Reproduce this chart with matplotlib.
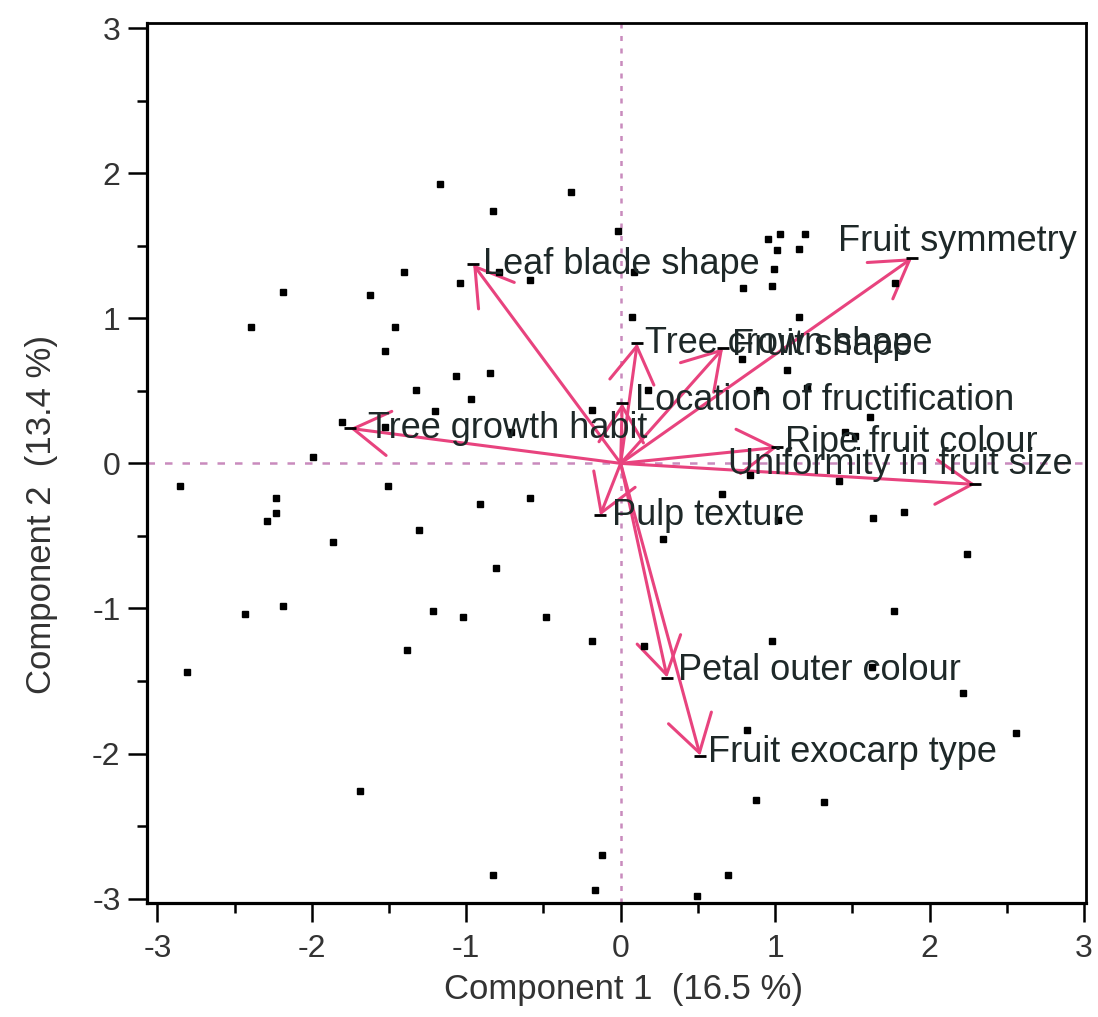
import matplotlib
matplotlib.use("Agg")
import matplotlib.pyplot as plt
from matplotlib.ticker import MultipleLocator

plt.rcParams['font.family'] = ['Liberation Sans', 'DejaVu Sans']

# observation scores (component 1, component 2)
score_x = [-1.168, -0.324, -0.827, -0.016, -0.791, -0.586, -1.406, -1.043, -2.186, -1.626,
           -2.392, -1.464, -1.529, -1.065, -0.849, -1.326, -0.968, -1.205, -0.183, -1.805,
           -1.524, -0.709, -1.990, -2.851, -1.509, -2.230, -2.230, -2.290, -0.909, -0.586,
           -1.304, -1.865, -0.806, -2.430, -2.186, -1.212, -1.024, -0.484, -0.184, -1.386,
           -2.808, -1.691, -0.123, -0.827, -0.165,
           1.416, 0.838, 0.657, 1.016, 1.631, 1.835, 0.277, 2.241, 1.772, 0.979,
           0.154, 1.626, 2.219, 0.817, 2.558, 0.877, 1.317, 0.694, 0.497,
           0.957, 1.032, 1.194, 1.011, 1.155, 0.994, 0.087, 0.795, 0.979, 1.777,
           0.074, 1.152, 0.784, 1.076, 1.205, 0.178, 0.896, 1.615, 1.453, 1.518]
score_y = [1.924, 1.869, 1.740, 1.600, 1.319, 1.262, 1.321, 1.243, 1.181, 1.163,
           0.940, 0.940, 0.777, 0.600, 0.623, 0.503, 0.446, 0.361, 0.366, 0.285,
           0.250, 0.216, 0.043, -0.157, -0.157, -0.237, -0.340, -0.395, -0.281, -0.237,
           -0.462, -0.543, -0.722, -1.037, -0.981, -1.019, -1.060, -1.060, -1.221, -1.283,
           -1.439, -2.257, -2.699, -2.837, -2.940,
           -0.122, -0.083, -0.212, -0.393, -0.379, -0.336, -0.519, -0.623, -1.019, -1.221,
           -1.262, -1.405, -1.584, -1.841, -1.860, -2.319, -2.336, -2.837, -2.979,
           1.548, 1.584, 1.584, 1.472, 1.474, 1.343, 1.319, 1.210, 1.224, 1.243,
           1.010, 1.012, 0.722, 0.641, 0.517, 0.503, 0.503, 0.321, 0.216, 0.190]

# variable loadings (arrow tips)
variables = ["Leaf blade shape", "Tree growth habit", "Tree crown shape", "Fruit shape",
             "Location of fructification", "Ripe fruit colour", "Uniformity in fruit size",
             "Fruit symmetry", "Pulp texture", "Petal outer colour", "Fruit exocarp type"]
load_x = [-0.955, -1.751, 0.107, 0.663, 0.010, 1.013, 2.295, 1.886, -0.133, 0.301, 0.515]
load_y = [1.372, 0.241, 0.827, 0.793, 0.414, 0.110, -0.145, 1.414, -0.359, -1.476, -2.014]

tick_vals = [-3, -2, -1, 0, 1, 2, 3]
tick_labels = ["-3", "-2", "-1", "0", "1", "2", "3"]

# label offsets from tip, in pixels
label_off = [(10, 0), (18, 0), (8, 0), (9, 3), (13, 3), (8, 5), (-247, 20),
             (-74, 17), (12, 0), (11, 7), (8, 3)]

pink = '#e8437e'
guide = '#c98bbd'
txt = '#1e2828'

fig = plt.figure(figsize=(10.98, 10.17), dpi=100)
ax = fig.add_axes([147 / 1098, 1 - 903 / 1017, (1086 - 147) / 1098, (903 - 23) / 1017])

ax.axhline(0, color=guide, lw=1.8, ls=(0, (3, 4)), zorder=1)
ax.axvline(0, color=guide, lw=1.8, ls=(0, (2, 3)), zorder=1)

for x, y in zip(load_x, load_y):
    ax.annotate('', xy=(x, y), xytext=(0, 0),
                arrowprops=dict(arrowstyle='->,head_length=2.6,head_width=1.6',
                                color=pink, lw=2.2, shrinkA=0, shrinkB=0,
                                mutation_scale=10),
                zorder=2)

ax.plot(score_x, score_y, 's', color='black', ms=4.5, zorder=3)
ax.plot(load_x, load_y, '_', color='black', ms=8, mew=2, zorder=3)

for name, x, y, off in zip(variables, load_x, load_y, label_off):
    ax.annotate(name, xy=(x, y), xytext=off, textcoords='offset pixels',
                fontsize=26, ha='left', va='center', color=txt, zorder=4)

ax.set_xlim(-3.067, 3.013)
ax.set_ylim(-3.03, 3.035)
ax.set_xticks(tick_vals)
ax.set_xticklabels(tick_labels)
ax.set_yticks(tick_vals)
ax.set_yticklabels(tick_labels)
ax.xaxis.set_minor_locator(MultipleLocator(0.5))
ax.yaxis.set_minor_locator(MultipleLocator(0.5))
ax.tick_params(which='major', direction='out', length=14, width=1.8,
               labelsize=23, labelcolor='#333333')
ax.tick_params(which='minor', direction='out', length=7, width=1.8)
ax.tick_params(axis='x', which='major', pad=8)
ax.tick_params(axis='y', which='major', pad=5)

for side in ['left', 'bottom']:
    ax.spines[side].set_linewidth(2.3)
for side in ['top', 'right']:
    ax.spines[side].set_linewidth(2.0)

fig.text(624 / 1098, 1 - 990 / 1017, 'Component 1  (16.5 %)', fontsize=25,
         ha='center', va='center', color='#333333')
fig.text(42 / 1098, 1 - 515 / 1017, 'Component 2  (13.4 %)', fontsize=25,
         ha='center', va='center', rotation=90, color='#333333')

fig.savefig('out.png', dpi=100)
